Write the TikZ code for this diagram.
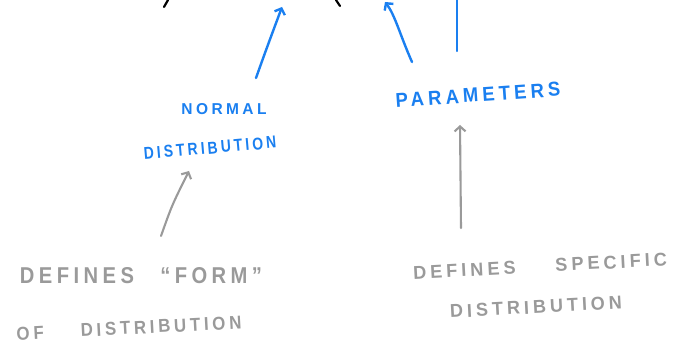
\documentclass[tikz,border=0pt]{standalone}
\usepackage{fontspec}
\usepackage{graphicx}
\setmainfont{Liberation Sans}
\newfontfamily\hand[LetterSpace=22]{Liberation Sans}
\usetikzlibrary{arrows.meta}
\definecolor{penblue}{HTML}{1A7FF0}
\definecolor{pengray}{HTML}{9A9A9A}
\newcommand{\fitw}[3]{\resizebox{#1pt}{#2pt}{\hand\bfseries #3}}
\tikzset{
  bluetxt/.style={text=penblue, inner sep=0pt},
  graytxt/.style={text=pengray, inner sep=0pt},
  bluearrow/.style={draw=penblue, line width=2.4pt, line cap=round, -{Straight Barb[length=5pt,width=11pt]}},
  grayarrow/.style={draw=pengray, line width=2.1pt, line cap=round, -{Straight Barb[length=5pt,width=11pt]}},
  blueline/.style={draw=penblue, line width=2.4pt, line cap=round},
  blackstroke/.style={draw=black, line width=2.2pt, line cap=round},
}
\begin{document}
\begin{tikzpicture}[x=1pt,y=-1pt]
\useasboundingbox (0,0) rectangle (677,344);
% texts
\node[bluetxt] (normal) at (224,109) {\fitw{85}{11}{NORMAL}};
\node[bluetxt, rotate=5] (dist) at (210,148) {\fitw{133}{12}{DISTRIBUTION}};
\node[bluetxt, rotate=4] (params) at (478,95) {\fitw{165}{14}{PARAMETERS}};
\node[graytxt] (form) at (141,276) {\fitw{242}{16}{DEFINES\hspace{1.3em}“FORM”}};
\node[graytxt, rotate=3] (ofdist) at (129,328) {\fitw{225}{13}{OF\hspace{2.2em}DISTRIBUTION}};
\node[graytxt, rotate=3] (specific) at (540,266) {\fitw{254}{13}{DEFINES\hspace{2.2em}SPECIFIC}};
\node[graytxt, rotate=3] (sdist) at (536,307) {\fitw{172}{13}{DISTRIBUTION}};
% connector endpoints
\coordinate (a1s) at (256,78);
\coordinate (a1e) at (282,7);
\coordinate (a2s) at (412,62);
\coordinate (a2e) at (385,2);
\coordinate (l3s) at (457,51);
\coordinate (l3e) at (457,0);
\coordinate (g1s) at (161,236);
\coordinate (g1e) at (189,171);
\coordinate (g2s) at (461,228);
\coordinate (g2e) at (460,125);
\coordinate (k1s) at (164,7);
\coordinate (k1e) at (168,0);
\coordinate (k2s) at (336,0);
\coordinate (k2e) at (340,6);
% connectors
\draw[bluearrow] (a1s) .. controls (266,50) .. (a1e);
\draw[bluearrow] (a2s) .. controls (400,35) and (395,15) .. (a2e);
\draw[blueline] (l3s) -- (l3e);
\draw[grayarrow] (g1s) .. controls (172,205) .. (g1e);
\draw[grayarrow] (g2s) -- (g2e);
\draw[blackstroke] (k1s) -- (k1e);
\draw[blackstroke] (k2s) -- (k2e);
\end{tikzpicture}
\end{document}
